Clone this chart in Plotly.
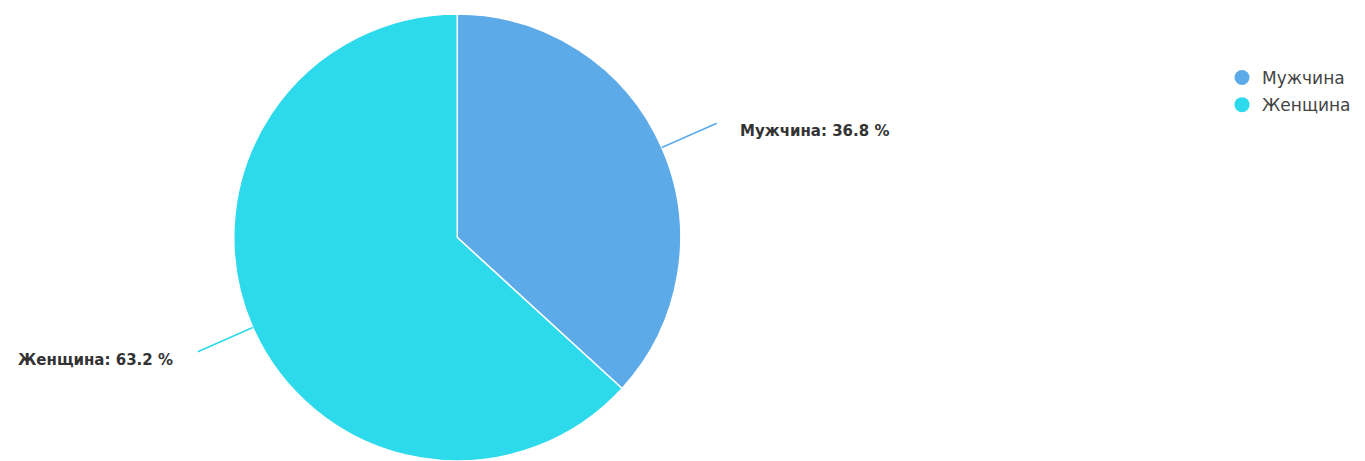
import math
import plotly.graph_objects as go

labels = ["Мужчина", "Женщина"]
values = [36.8, 63.2]
colors = ["#5DAAE8", "#2DDAEB"]

W, H = 1365, 461
MT, MB = 14, 0
PH = H - MT - MB
DOM_X = [0.17, 0.5]

fig = go.Figure()
fig.add_trace(go.Pie(
    labels=labels, values=values, sort=False, direction="clockwise", rotation=0,
    marker=dict(colors=colors, line=dict(color="white", width=1.5)),
    textinfo="none", hoverinfo="label+percent", showlegend=False,
    domain=dict(x=DOM_X, y=[0, 1]),
))

# legend entries with circle markers
for i, (lab, col) in enumerate(zip(labels, colors)):
    fig.add_trace(go.Scatter(
        x=[None], y=[None], mode="markers", name=lab, legendgroup=lab,
        marker=dict(symbol="circle", size=15, color=col),
    ))

# leader lines and labels computed from the data
cx = (DOM_X[0] + DOM_X[1]) / 2 * W
cy = MT + PH / 2
R = PH / 2
L = 60
total = sum(values)
cum = 0
shapes, annotations = [], []
def px2paper(x, y):
    return x / W, (H - MB - y) / PH
for lab, v, col in zip(labels, values, colors):
    mid = (cum + v / 2) / total * 2 * math.pi
    cum += v
    sx, sy = math.sin(mid), -math.cos(mid)
    x0, y0 = cx + R * sx, cy + R * sy
    x1, y1 = cx + (R + L) * sx, cy + (R + L) * sy
    p0 = px2paper(x0, y0)
    p1 = px2paper(x1, y1)
    shapes.append(dict(type="line", xref="paper", yref="paper",
                       x0=p0[0], y0=p0[1], x1=p1[0], y1=p1[1],
                       line=dict(color=col, width=1.5)))
    right = sx >= 0
    tx = x1 + (21 if right else -23)
    ty = y1 + 8
    pt = px2paper(tx, ty)
    annotations.append(dict(
        x=pt[0], y=pt[1], xref="paper", yref="paper",
        text=f"<b>{lab}: {v:.1f} %</b>", showarrow=False,
        xanchor="left" if right else "right", yanchor="middle",
        font=dict(family="DejaVu Sans", size=15, color="#333333"),
    ))

fig.update_layout(
    width=W, height=H,
    margin=dict(l=0, r=0, t=MT, b=MB),
    paper_bgcolor="white", plot_bgcolor="white",
    xaxis=dict(visible=False), yaxis=dict(visible=False),
    shapes=shapes, annotations=annotations,
    legend=dict(x=1222 / W, y=(H - 60) / PH, xanchor="left", yanchor="top",
                font=dict(family="DejaVu Sans", size=17, color="#444444"),
                tracegroupgap=2, bgcolor="rgba(0,0,0,0)"),
    showlegend=True,
)

fig.write_html("out.html")
